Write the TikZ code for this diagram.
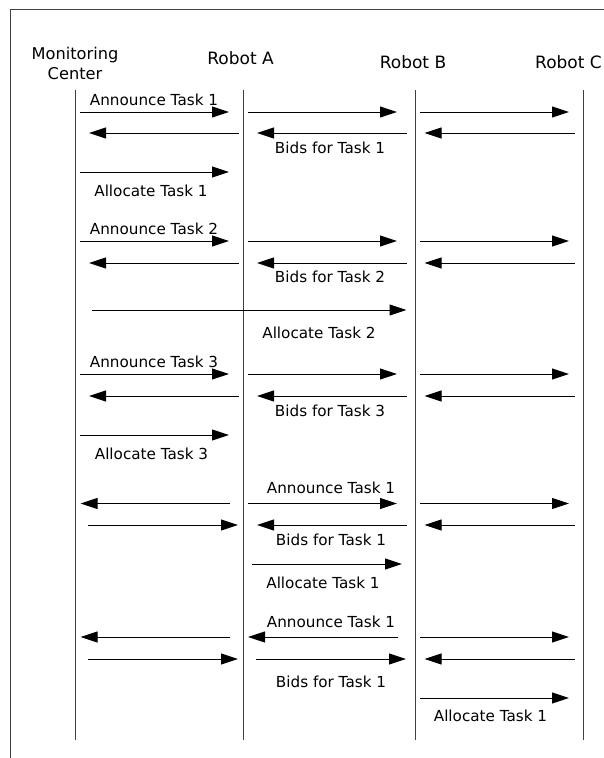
\documentclass[tikz,border=0pt]{standalone}
\usepackage{fontspec}
\setmainfont{DejaVu Sans}
\usetikzlibrary{arrows.meta}

\tikzset{
  frame/.style={line width=1pt, draw=black!75},
  lifeline/.style={line width=1pt, draw=black!75},
  msg/.style={line width=1pt, draw=black, -{Triangle[length=17pt,width=11pt]}},
  lbl/.style={inner sep=0pt, text height=11pt, text depth=0pt,
              font=\fontsize{15.2}{18}\selectfont},
  head/.style={inner sep=0pt, text height=12pt, text depth=0pt,
               font=\fontsize{17}{20}\selectfont},
}

% one message: name, y, x of start, x of tip
\newcommand\msgline[4]{%
  \coordinate (#1s) at (#3,#2);
  \coordinate (#1e) at (#4,#2);
  \draw[msg] (#1s) -- (#1e);}

\begin{document}
\begin{tikzpicture}[x=1pt,y=-1pt]
\useasboundingbox (0,0) rectangle (604,758);

% outer frame
\draw[frame] (10.5,758) -- (10.5,9) -- (604,9);

% participants
\node[inner sep=0pt, align=center, anchor=north,
      font=\fontsize{16.2}{20.5}\selectfont] (mc) at (75,46.5) {Monitoring\\Center};
\node[head] (ra) at (240.5,58) {Robot A};
\node[head] (rb) at (413,62.5) {Robot B};
\node[head] (rc) at (568.5,62.5) {Robot C};

% lifelines
\coordinate (mcT) at (75.5,90);  \coordinate (mcB) at (75.5,740);
\coordinate (raT) at (243,90);   \coordinate (raB) at (243,740);
\coordinate (rbT) at (415.5,90); \coordinate (rbB) at (415.5,740);
\coordinate (rcT) at (583,90);   \coordinate (rcB) at (583,740);
\draw[lifeline] (mcT) -- (mcB);
\draw[lifeline] (raT) -- (raB);
\draw[lifeline] (rbT) -- (rbB);
\draw[lifeline] (rcT) -- (rcB);

% task 1
\msgline{a1}{112}{80}{229}
\msgline{b1}{112}{248}{397}
\msgline{c1}{112}{420}{569}
\msgline{a2}{133}{238.5}{89}
\msgline{b2}{133}{406.5}{257}
\msgline{c2}{133}{574.5}{424.5}
\msgline{a3}{172}{80}{229}
\node[lbl] (t1) at (154,100) {Announce Task 1};
\node[lbl] (t2) at (330,148) {Bids for Task 1};
\node[lbl] (t3) at (151,191) {Allocate Task 1};

% task 2
\msgline{a4}{241}{80}{229}
\msgline{b4}{241}{248}{397}
\msgline{c4}{241}{420}{569}
\msgline{a5}{263}{238.5}{89}
\msgline{b5}{263}{406.5}{257}
\msgline{c5}{263}{574.5}{424.5}
\msgline{a6}{310}{92}{406.5}
\node[lbl] (t4) at (154,229) {Announce Task 2};
\node[lbl] (t5) at (330,277) {Bids for Task 2};
\node[lbl] (t6) at (319,333) {Allocate Task 2};

% task 3
\msgline{a7}{374}{80}{229}
\msgline{b7}{374}{248}{397}
\msgline{c7}{374}{420}{569}
\msgline{a8}{396}{238.5}{89}
\msgline{b8}{396}{406.5}{257}
\msgline{c8}{396}{574.5}{424.5}
\msgline{a9}{435}{80}{229}
\node[lbl] (t7) at (154,362) {Announce Task 3};
\node[lbl] (t8) at (330,411) {Bids for Task 3};
\node[lbl] (t9) at (151.5,454) {Allocate Task 3};

% task 1 announced by Robot A
\msgline{a10}{503.5}{230}{80.5}
\msgline{b10}{503.5}{248}{397}
\msgline{c10}{503.5}{420}{569}
\msgline{a11}{525}{88}{238}
\msgline{b11}{525}{406.5}{257}
\msgline{c11}{525}{574.5}{424.5}
\msgline{b12}{564}{252}{402}
\node[lbl] (t10) at (331,488) {Announce Task 1};
\node[lbl] (t11) at (331,540) {Bids for Task 1};
\node[lbl] (t12) at (323,583) {Allocate Task 1};

% task 1 announced by Robot B
\msgline{a13}{637}{230}{80.5}
\msgline{b13}{637}{398}{248}
\msgline{c13}{637}{420}{569}
\msgline{a14}{659}{88}{238}
\msgline{b14}{659}{256}{406}
\msgline{c14}{659}{574.5}{424.5}
\msgline{c15}{698}{420}{569}
\node[lbl] (t13) at (331,622) {Announce Task 1};
\node[lbl] (t14) at (331,682) {Bids for Task 1};
\node[lbl] (t15) at (490.5,716) {Allocate Task 1};

\end{tikzpicture}
\end{document}
